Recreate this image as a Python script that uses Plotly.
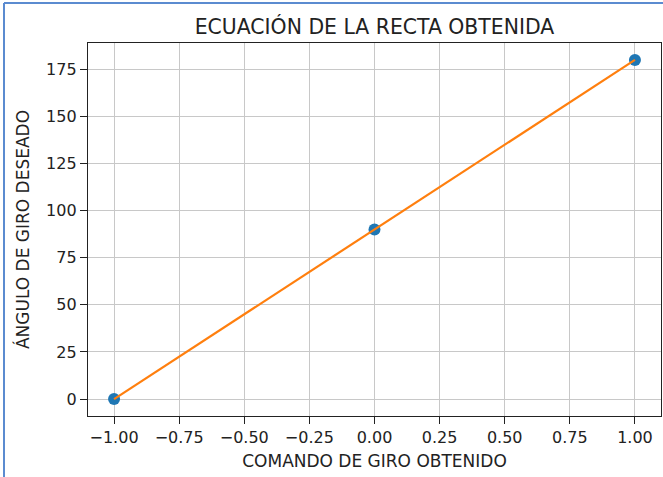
import plotly.graph_objects as go

comando = [-1.0, 0.0, 1.0]
angulo = [0, 90, 180]
x_ticks = [-1.0, -0.75, -0.5, -0.25, 0.0, 0.25, 0.5, 0.75, 1.0]
x_tick_labels = ["\u22121.00", "\u22120.75", "\u22120.50", "\u22120.25", "0.00", "0.25", "0.50", "0.75", "1.00"]
y_ticks = [0, 25, 50, 75, 100, 125, 150, 175]
y_tick_labels = ["0", "25", "50", "75", "100", "125", "150", "175"]

W, H = 663, 477
L, R, T, B = 88, 2, 43, 61
pw, ph = W - L - R, H - T - B

fig = go.Figure()
fig.add_trace(go.Scatter(x=comando, y=angulo, mode="markers",
                         marker=dict(color="#1f77b4", size=12), showlegend=False))
fig.add_trace(go.Scatter(x=comando, y=angulo, mode="lines",
                         line=dict(color="#ff7f0e", width=2.2), showlegend=False))

font = "DejaVu Sans"
axis_common = dict(showgrid=True, gridcolor="#c8c8c8", gridwidth=1.2,
                   showline=True, linecolor="#222", linewidth=1.3, mirror=True,
                   ticks="outside", ticklen=7, tickcolor="#222", tickwidth=1.2,
                   zeroline=False,
                   tickfont=dict(family=font, size=16, color="#222"))

fig.update_layout(
    width=W, height=H,
    margin=dict(l=L, r=R, t=T, b=B),
    paper_bgcolor="white", plot_bgcolor="white",
    title=dict(text="ECUACIÓN DE LA RECTA OBTENIDA", x=0.5, xref="paper",
               y=1 - 27 / H, yanchor="middle",
               font=dict(family=font, size=20.4, color="#222")),
    xaxis=dict(range=[-1.1, 1.1], tickvals=x_ticks, ticktext=x_tick_labels,
               title=dict(text="COMANDO DE GIRO OBTENIDO", standoff=8,
                          font=dict(family=font, size=17, color="#222")),
               **axis_common),
    yaxis=dict(range=[-9, 189], tickvals=y_ticks, ticktext=y_tick_labels,
               title=dict(text="ÁNGULO DE GIRO DESEADO", standoff=12,
                          font=dict(family=font, size=17, color="#222")),
               **axis_common),
    shapes=[
        dict(type="line", xref="paper", yref="paper",
             x0=(4 - L) / pw, x1=(4 - L) / pw, y0=(H - B - 3) / ph, y1=(H - B - H) / ph,
             line=dict(color="#5b8bd0", width=2)),
        dict(type="line", xref="paper", yref="paper",
             x0=(4 - L) / pw, x1=(W - L) / pw, y0=(H - B - 3) / ph, y1=(H - B - 3) / ph,
             line=dict(color="#5b8bd0", width=2)),
    ],
)

fig.write_html("out.html", config={"displayModeBar": False},
               post_script="document.body.style.margin='0';document.body.style.overflow='hidden';")
